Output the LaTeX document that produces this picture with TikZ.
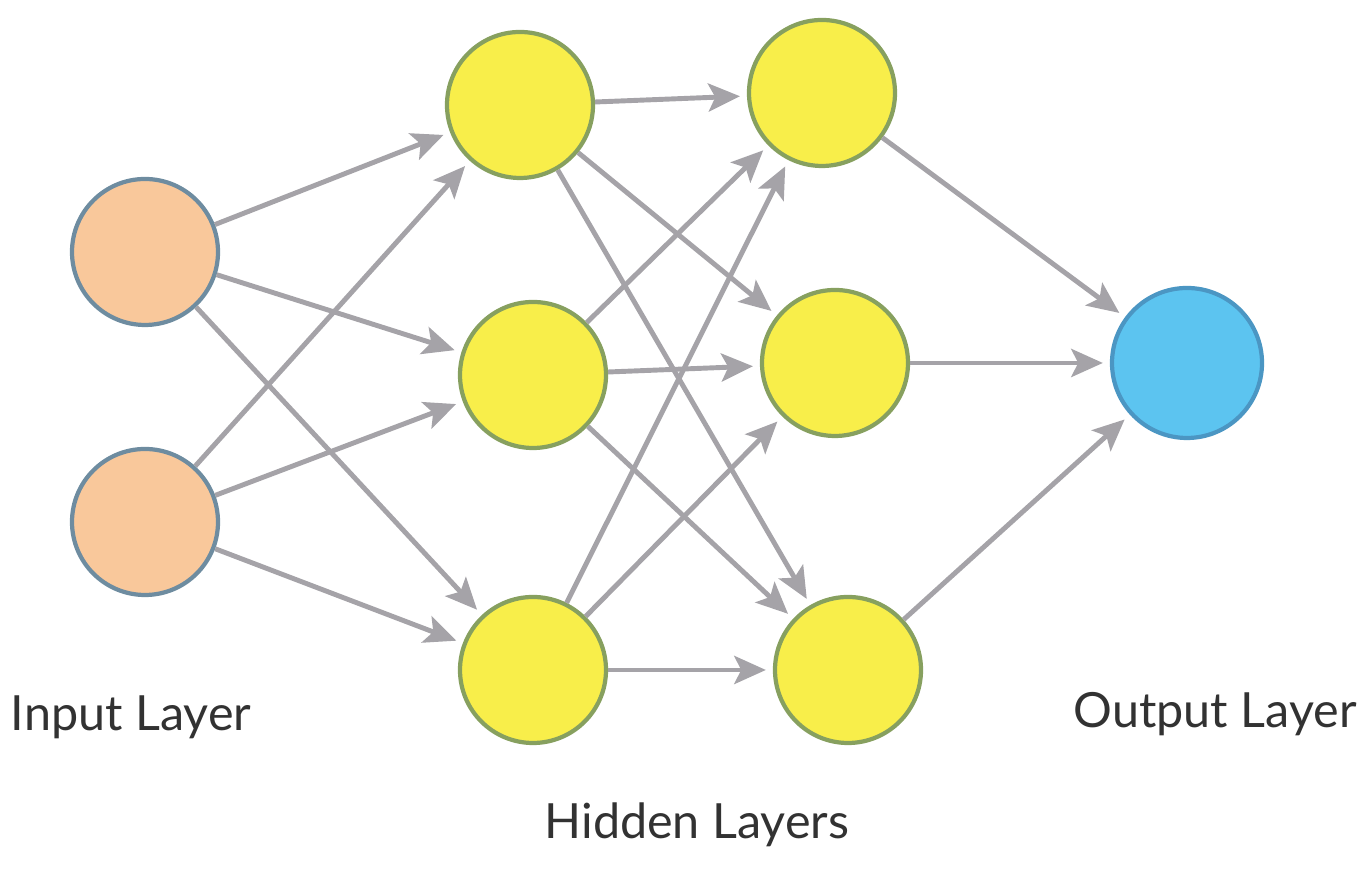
\documentclass[tikz,border=0pt]{standalone}
\usepackage{fontspec}
\setmainfont{Lato}
\usepackage{tikz}
\usetikzlibrary{arrows.meta,positioning,calc}
\definecolor{InPeach}{RGB}{249,200,155}
\definecolor{InEdge}{RGB}{110,140,160}
\definecolor{HidYellow}{RGB}{248,238,74}
\definecolor{HidEdge}{RGB}{135,160,95}
\definecolor{OutBlue}{RGB}{92,196,240}
\definecolor{OutEdge}{RGB}{75,150,195}
\definecolor{WireGray}{RGB}{165,163,168}
\definecolor{LabelGray}{RGB}{50,50,50}

\begin{document}
\begin{tikzpicture}[x=1cm,y=1cm,
  neuron/.style={circle,line width=1.2pt,minimum size=1.46cm,inner sep=0pt},
  wire/.style={WireGray,line width=1.4pt,-{Stealth[length=9pt,width=8pt,inset=2pt]},shorten >=2pt},
  layerlabel/.style={LabelGray,font=\fontsize{13.8}{16}\selectfont}]
  \useasboundingbox (0,0) rectangle (13.71,8.73);
  \foreach \j/\y in {1/6.21,2/3.51} {
    \node[neuron,draw=InEdge,fill=InPeach] (In\j) at (1.45,\y) {};
  }
  \foreach \j/\x/\y in {1/5.20/7.68,2/5.33/4.98,3/5.33/2.03} {
    \node[neuron,draw=HidEdge,fill=HidYellow] (Ha\j) at (\x,\y) {};
  }
  \foreach \j/\x/\y in {1/8.22/7.80,2/8.35/5.10,3/8.48/2.03} {
    \node[neuron,draw=HidEdge,fill=HidYellow] (Hb\j) at (\x,\y) {};
  }
  \node[neuron,draw=OutEdge,fill=OutBlue,minimum size=1.5cm] (Out) at (11.87,5.10) {};
  \foreach \i in {1,2} {
    \foreach \j in {1,2,3} {
      \draw[wire] (In\i) -- (Ha\j);
    }
  }
  \foreach \i in {1,2,3} {
    \foreach \j in {1,2,3} {
      \draw[wire] (Ha\i) -- (Hb\j);
    }
    \draw[wire] (Hb\i) -- (Out);
  }
  \node[layerlabel] (inlbl) at (1.31,1.56) {Input Layer};
  \node[layerlabel] (hidlbl) at (6.97,0.48) {Hidden Layers};
  \node[layerlabel] (outlbl) at (12.15,1.59) {Output Layer};
\end{tikzpicture}
\end{document}
